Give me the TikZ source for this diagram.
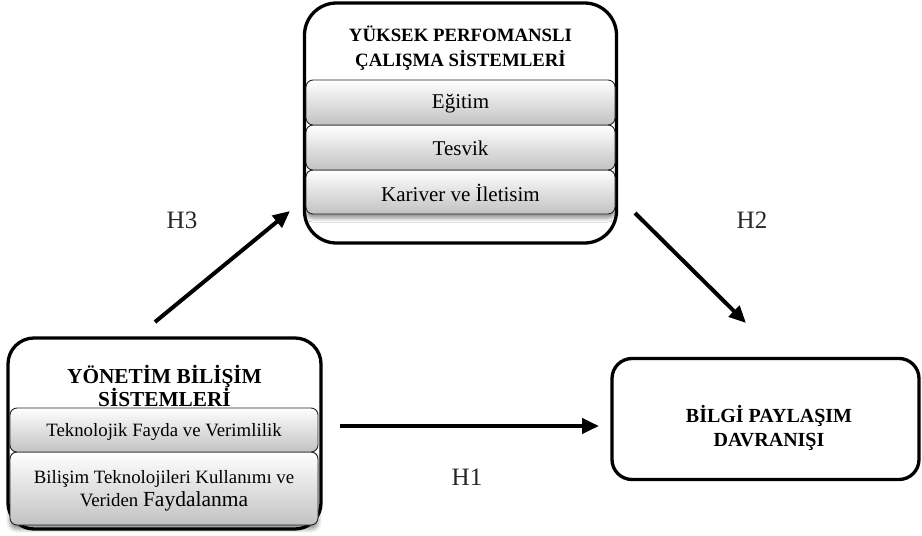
\documentclass[tikz,border=0pt]{standalone}
\usepackage{fontspec}
\setmainfont{Liberation Serif}
\usetikzlibrary{arrows.meta,shadows.blur}

\tikzset{
  outerbox/.style={draw=black, line width=3.3pt, fill=white},
  bar/.style={draw=black!85, line width=0.9pt, rounded corners=7pt,
    top color=white, bottom color=black!24, inner sep=0pt},
  barshadow/.style={blur shadow={shadow xshift=0pt, shadow yshift=-4pt,
    shadow blur radius=4pt, shadow opacity=45}},
  titletext/.style 2 args={font=\bfseries\fontsize{#1}{#2}\selectfont, align=center, inner sep=0pt},
  bartext/.style 2 args={font=\fontsize{#1}{#2}\selectfont, align=center, inner sep=0pt},
  hlabel/.style={font=\fontsize{25}{28}\selectfont, text=black!85, inner sep=0pt},
  link/.style={line width=4pt, -{Triangle[length=17pt,width=15pt]}}
}

\begin{document}
\begin{tikzpicture}[x=1pt,y=-1pt]
\useasboundingbox (0,0) rectangle (922,536);

% ---- Yüksek performanslı çalışma sistemleri ----
\node[outerbox, rounded corners=32pt, minimum width=312pt, minimum height=240pt]
  (hpws) at (460.5,123) {};
\node[titletext={18.8}{25}] (hpwsT) at (460.5,48.5)
  {YÜKSEK PERFOMANSLI\\ÇALIŞMA SİSTEMLERİ};
\node[bar, barshadow, minimum width=309pt, minimum height=44pt] (kariyer) at (460.5,192) {};
\node[bar, minimum width=309pt, minimum height=45pt] (tesvik) at (460.5,147.5) {};
\node[bar, minimum width=309pt, minimum height=45pt] (egitim) at (460.5,102.5) {};
\node[bartext={21}{24}] at ([yshift=-1pt]egitim.center) {Eğitim};
\node[bartext={21}{24}] at ([yshift=-1pt]tesvik.center) {Tesvik};
\node[bartext={21}{24}] at ([yshift=-1pt]kariyer.center) {Kariver ve İletisim};

% ---- Yönetim bilişim sistemleri ----
\node[outerbox, rounded corners=26pt, minimum width=313pt, minimum height=191pt]
  (ybs) at (164.5,433.5) {};
\node[titletext={21.3}{22}] (ybsT) at (164.5,386) {YÖNETİM BİLİŞİM\\SİSTEMLERİ};
\node[bar, barshadow, minimum width=308pt, minimum height=73pt] (kullanim) at (164,488.5) {};
\node[bar, minimum width=308pt, minimum height=44pt] (fayda) at (164,430) {};
\node[bartext={18.8}{22}] at (164,432) {Teknolojik Fayda ve Verimlilik};
\node[bartext={18.8}{23}] at (164,491)
  {Bilişim Teknolojileri Kullanımı ve\\Veriden {\fontsize{21.5}{23}\selectfont Faydalanma}};

% ---- Bilgi paylaşım davranışı ----
\node[outerbox, rounded corners=20pt, minimum width=307pt, minimum height=121pt]
  (bpd) at (765.5,419) {};
\node[titletext={20}{24.5}] (bpdT) at (769,428) {BİLGİ PAYLAŞIM\\DAVRANIŞI};

% ---- Hypothesis paths ----
\coordinate (h3s) at (155,322);
\coordinate (h3e) at (290,211);
\coordinate (h2s) at (635,213);
\coordinate (h2e) at (746,323);
\coordinate (h1s) at (340,426);
\coordinate (h1e) at (599,426);
\draw[link] (h3s) -- (h3e);
\draw[link] (h2s) -- (h2e);
\draw[link] (h1s) -- (h1e);

\node[hlabel] (lh3) at (182,220) {H3};
\node[hlabel] (lh2) at (752,220) {H2};
\node[hlabel] (lh1) at (467,477) {H1};
\end{tikzpicture}
\end{document}
